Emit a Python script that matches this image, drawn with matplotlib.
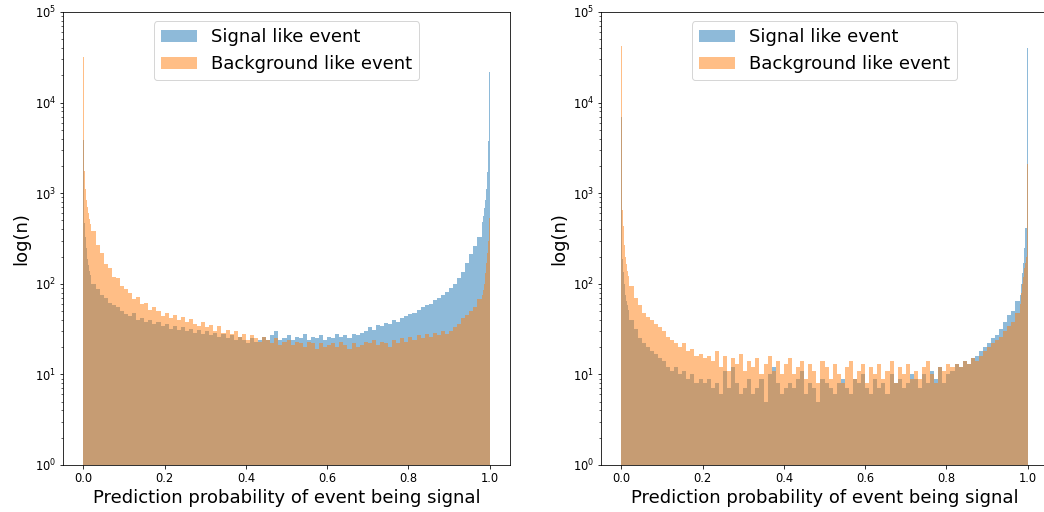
import numpy as np
import matplotlib
matplotlib.use("Agg")
import matplotlib.pyplot as plt

# bin edges: fine bins near 0 and 1, 0.01 bins in between ======================
edges = np.concatenate([np.linspace(0.0, 0.02, 9)[:-1],
                        np.linspace(0.02, 0.98, 97)[:-1],
                        np.linspace(0.98, 1.0, 9)])

# left panel: bin heights =====================================================
sig_left = ([3900, 470, 330, 250, 190, 160, 140, 125]
            + [100, 88, 75, 70, 62, 58, 55, 50, 46, 44,
               48, 40, 42, 38, 40, 36, 38, 34, 36, 32,
               34, 31, 33, 30, 32, 29, 31, 28, 30, 27,
               29, 26, 28, 25, 27, 24, 26, 24, 22, 25,
               23, 24, 26, 24, 27, 30, 24, 25, 27, 24,
               26, 25, 28, 24, 26, 25, 27, 24, 26, 25,
               28, 26, 27, 25, 28, 27, 29, 30, 33, 31,
               35, 34, 37, 36, 40, 38, 42, 44, 46, 48,
               52, 55, 58, 60, 66, 70, 75, 82, 90, 100,
               115, 135, 170, 215, 260, 330]
            + [480, 560, 680, 850, 1100, 1700, 3800, 22000])

bkg_left = ([32000, 1760, 1100, 850, 700, 600, 520, 460]
            + [380, 265, 220, 165, 150, 120, 115, 95, 88, 80,
               68, 72, 60, 62, 52, 55, 50, 44, 48, 42,
               45, 40, 43, 38, 41, 36, 34, 38, 33, 35,
               30, 34, 29, 31, 28, 30, 26, 28, 24, 27,
               25, 23, 26, 24, 22, 25, 21, 23, 24, 21,
               23, 22, 20, 23, 22, 19, 22, 20, 21, 22,
               20, 23, 21, 19, 22, 20, 21, 23, 22, 24,
               21, 23, 22, 20, 24, 22, 25, 23, 26, 24,
               27, 25, 28, 26, 29, 27, 30, 28, 30, 33,
               36, 42, 45, 50, 56, 68]
            + [75, 85, 100, 130, 170, 220, 300, 530])

# right panel ==================================================================
sig_right = ([7000, 190, 135, 100, 75, 65, 58, 52]
             + [40, 32, 25, 22, 20, 18, 17, 15, 14, 12,
                11, 12, 10, 11, 9, 10, 8, 9, 8, 9,
                7, 8, 6, 11, 7, 12, 8, 6, 7, 9,
                6, 7, 9, 5, 10, 12, 8, 6, 7, 8,
                7, 9, 11, 6, 8, 7, 5, 9, 8, 7,
                6, 8, 9, 7, 6, 9, 8, 10, 7, 6,
                9, 7, 8, 6, 10, 8, 9, 7, 8, 10,
                9, 7, 10, 8, 11, 9, 12, 8, 10, 11,
                13, 12, 14, 13, 15, 16, 18, 20, 22, 25,
                27, 32, 38, 45, 50, 65]
             + [75, 100, 130, 170, 250, 410, 410, 40000])

bkg_right = ([42000, 660, 430, 270, 200, 165, 140, 122]
             + [95, 70, 58, 48, 43, 40, 36, 33, 30, 26,
                24, 22, 20, 22, 18, 19, 16, 17, 15, 16,
                14, 18, 12, 16, 11, 15, 13, 17, 11, 14,
                12, 15, 10, 13, 16, 11, 14, 10, 13, 15,
                10, 12, 14, 9, 13, 11, 8, 14, 12, 9,
                13, 10, 8, 12, 14, 9, 11, 13, 8, 12,
                10, 13, 9, 11, 14, 8, 12, 10, 13, 9,
                11, 9, 12, 14, 10, 8, 12, 11, 13, 12,
                13, 12, 14, 13, 15, 14, 16, 18, 20, 22,
                24, 26, 30, 34, 38, 48]
             + [60, 80, 100, 120, 150, 170, 200, 2100])

centers = 0.5 * (edges[:-1] + edges[1:])

# plot =========================================================================
fig = plt.figure(figsize=(1044 / 72, 512 / 72), dpi=72)
ax1 = fig.add_axes([63 / 1044, 47 / 512, 447 / 1044, 453 / 512])
ax2 = fig.add_axes([601 / 1044, 47 / 512, 447 / 1044, 453 / 512])

for ax, sig, bkg in [(ax1, sig_left, bkg_left), (ax2, sig_right, bkg_right)]:
    ax.hist(centers, bins=edges, weights=sig, histtype="stepfilled",
            alpha=0.5, color="C0", label="Signal like event")
    ax.hist(centers, bins=edges, weights=bkg, histtype="stepfilled",
            alpha=0.5, color="C1", label="Background like event")
    ax.set_yscale("log")
    ax.set_ylim(1, 1e5)
    ax.set_xlim(-0.05, 1.05)
    ax.tick_params(labelsize=11.5)
    ax.set_xlabel("Prediction probability of event being signal", fontsize=18)
    ax.set_ylabel("log(n)", fontsize=18)
    ax.legend(loc="upper center", fontsize=18)

plt.savefig("out.png", dpi=72)
